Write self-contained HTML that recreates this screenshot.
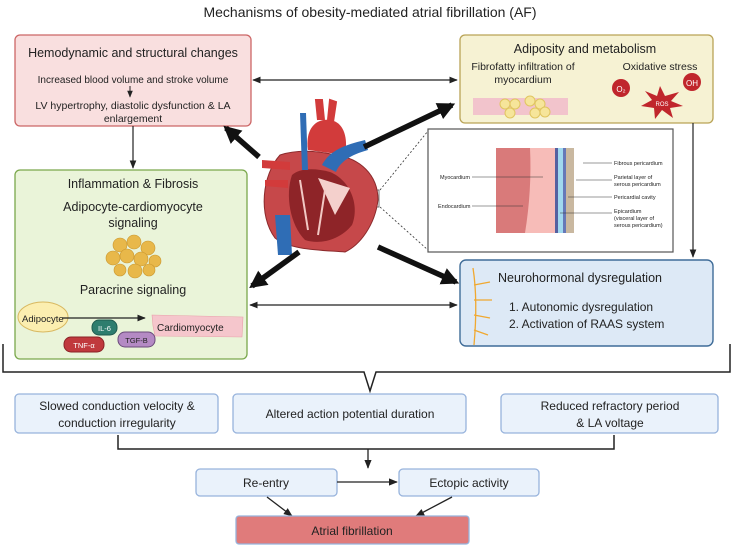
<!DOCTYPE html>
<html><head><meta charset="utf-8"><style>
body{margin:0;width:733px;height:548px;background:#fff;font-family:"Liberation Sans",sans-serif;overflow:hidden}
svg{display:block}
text{font-family:"Liberation Sans",sans-serif;fill:#222}
</style></head><body>
<svg width="733" height="548" viewBox="0 0 733 548">
<defs>
<marker id="a" viewBox="0 0 10 10" refX="9" refY="5" markerWidth="7" markerHeight="7" orient="auto-start-reverse"><path d="M0,1 L10,5 L0,9 z" fill="#222"/></marker>
<marker id="b" viewBox="0 0 10 10" refX="8" refY="5" markerWidth="3.2" markerHeight="3.2" orient="auto"><path d="M0,0 L10,5 L0,10 z" fill="#111"/></marker>
</defs>
<text x="370" y="17" font-size="14" text-anchor="middle">Mechanisms of obesity-mediated atrial fibrillation (AF)</text>

<!-- Hemodynamic -->
<rect x="15" y="35" width="236" height="91" rx="5" fill="#f9dfdf" stroke="#c66" stroke-width="1.3"/>
<text x="133" y="57" font-size="12.5" text-anchor="middle">Hemodynamic and structural changes</text>
<text x="133" y="83" font-size="10" text-anchor="middle">Increased blood volume and stroke volume</text>
<line x1="130" y1="86" x2="130" y2="97" stroke="#222" marker-end="url(#a)"/>
<text x="133" y="109" font-size="10.5" text-anchor="middle">LV hypertrophy, diastolic dysfunction &amp; LA</text>
<text x="133" y="122" font-size="10.5" text-anchor="middle">enlargement</text>

<!-- Adiposity -->
<rect x="460" y="35" width="253" height="88" rx="5" fill="#f6f2d3" stroke="#b9a356" stroke-width="1.3"/>
<text x="585" y="53" font-size="12.5" text-anchor="middle">Adiposity and metabolism</text>
<text x="523" y="70" font-size="10.5" text-anchor="middle">Fibrofatty infiltration of</text>
<text x="523" y="83" font-size="10.5" text-anchor="middle">myocardium</text>
<text x="660" y="70" font-size="10.5" text-anchor="middle">Oxidative stress</text>
<rect x="473" y="98" width="95" height="17" fill="#f2c4cc"/>
<g fill="#f6e59a" stroke="#e0c560"><circle cx="505" cy="104" r="5"/><circle cx="515" cy="104" r="5"/><circle cx="510" cy="113" r="5"/><circle cx="530" cy="101" r="5"/><circle cx="540" cy="104" r="5"/><circle cx="535" cy="113" r="5"/><circle cx="545" cy="112" r="5"/></g>
<circle cx="621" cy="126" r="0" />
<circle cx="621" cy="88" r="9" fill="#c0262c"/><text x="621" y="92" font-size="8" text-anchor="middle" fill="#fff" style="fill:#fff">O₂</text>
<circle cx="692" cy="82" r="9" fill="#c0262c"/><text x="692" y="86" font-size="8" text-anchor="middle" style="fill:#fff">OH</text>
<path d="M660,86 L665,96 L679,92 L671,101 L683,106 L670,108 L673,118 L662,110 L655,119 L654,108 L641,106 L652,100 L645,91 L657,96 Z" fill="#c0262c"/>
<text x="662" y="106" font-size="6" text-anchor="middle" style="fill:#fff">ROS</text>

<!-- inset -->
<rect x="428" y="129" width="245" height="123" fill="#fff" stroke="#555" stroke-width="1.2"/>
<line x1="380" y1="190" x2="428" y2="131" stroke="#333" stroke-dasharray="2,2" stroke-width="0.8"/>
<line x1="380" y1="207" x2="428" y2="250" stroke="#333" stroke-dasharray="2,2" stroke-width="0.8"/>
<rect x="357" y="190" width="22" height="17" fill="none" stroke="#555" stroke-width="0.8"/>
<rect x="496" y="148" width="40" height="85" fill="#d97a7a"/>
<path d="M530,148 L555,148 L555,233 L525,233 Q532,190 530,148Z" fill="#f7bcb8"/>
<rect x="555" y="148" width="3" height="85" fill="#5560a0"/>
<rect x="558" y="148" width="5" height="85" fill="#a0d8ef"/>
<rect x="563" y="148" width="3" height="85" fill="#6678b8"/>
<rect x="566" y="148" width="8" height="85" fill="#c9b8a0"/>
<g stroke="#333" stroke-width="0.5"><line x1="472" y1="177" x2="543" y2="177"/><line x1="472" y1="206" x2="523" y2="206"/><line x1="583" y1="163" x2="612" y2="163"/><line x1="576" y1="180" x2="612" y2="180"/><line x1="568" y1="197" x2="612" y2="197"/><line x1="560" y1="213" x2="612" y2="213"/></g>
<g font-size="5.5"><text x="440" y="179">Myocardium</text><text x="438" y="208">Endocardium</text><text x="614" y="165">Fibrous pericardium</text><text x="614" y="179">Parietal layer of</text><text x="614" y="186">serous pericardium</text><text x="614" y="199">Pericardial cavity</text><text x="614" y="213">Epicardium</text><text x="614" y="220">(visceral layer of</text><text x="614" y="227">serous pericardium)</text></g>

<!-- Inflammation -->
<rect x="15" y="170" width="232" height="189" rx="5" fill="#eaf4d9" stroke="#7aa84c" stroke-width="1.3"/>
<text x="133" y="188" font-size="12.5" text-anchor="middle">Inflammation &amp; Fibrosis</text>
<text x="133" y="211" font-size="12.5" text-anchor="middle">Adipocyte-cardiomyocyte</text>
<text x="133" y="227" font-size="12.5" text-anchor="middle">signaling</text>
<g fill="#e8b84a" stroke="#c9962e" stroke-width="0.6"><circle cx="120" cy="245" r="7"/><circle cx="134" cy="242" r="7"/><circle cx="148" cy="248" r="7"/><circle cx="113" cy="258" r="7"/><circle cx="127" cy="256" r="7"/><circle cx="141" cy="259" r="7"/><circle cx="155" cy="261" r="6"/><circle cx="120" cy="270" r="6"/><circle cx="135" cy="271" r="7"/><circle cx="149" cy="270" r="6"/></g>
<text x="133" y="294" font-size="12.5" text-anchor="middle">Paracrine signaling</text>
<ellipse cx="43" cy="317" rx="25" ry="15" fill="#fbeeb0" stroke="#d8b860"/>
<text x="22" y="322" font-size="9.5">Adipocyte</text>
<line x1="62" y1="318" x2="145" y2="318" stroke="#222" stroke-width="1.2" marker-end="url(#a)"/>
<path d="M152,315 L243,317 L242,337 L155,336 L153,326 Z" fill="#f5c6cc" stroke="#e8a0aa" stroke-width="0.6"/>
<text x="157" y="331" font-size="10">Cardiomyocyte</text>
<rect x="92" y="320" width="25" height="15" rx="7" fill="#2e7d6e" stroke="#1f5a4f"/><text x="104.5" y="331" font-size="7.5" text-anchor="middle" style="fill:#fff">IL-6</text>
<rect x="64" y="337" width="40" height="15" rx="7" fill="#c0393d" stroke="#8a2226"/><text x="84" y="348" font-size="7.5" text-anchor="middle" style="fill:#fff">TNF-α</text>
<rect x="118" y="332" width="37" height="15" rx="7" fill="#b48ac4" stroke="#6a4b7a"/><text x="136.5" y="343" font-size="7.5" text-anchor="middle">TGF-B</text>

<!-- Neuro -->
<rect x="460" y="260" width="253" height="86" rx="6" fill="#dde9f6" stroke="#3f6c98" stroke-width="1.4"/>
<path d="M473,268 Q478,300 474,345 M474,285 L490,282 M474,300 L492,300 M474,315 L490,318 M474,330 L488,335" stroke="#f0a830" stroke-width="1.3" fill="none"/>
<text x="580" y="282" font-size="12.5" text-anchor="middle">Neurohormonal dysregulation</text>
<text x="509" y="311" font-size="12">1. Autonomic dysregulation</text>
<text x="509" y="328" font-size="12">2. Activation of RAAS system</text>

<!-- thin arrows -->
<line x1="253" y1="80" x2="457" y2="80" stroke="#222" stroke-width="1.2" marker-start="url(#a)" marker-end="url(#a)"/>
<line x1="250" y1="305" x2="457" y2="305" stroke="#222" stroke-width="1.2" marker-start="url(#a)" marker-end="url(#a)"/>
<line x1="133" y1="126" x2="133" y2="168" stroke="#222" stroke-width="1.2" marker-end="url(#a)"/>
<line x1="693" y1="123" x2="693" y2="257" stroke="#222" stroke-width="1.2" marker-end="url(#a)"/>

<!-- heart -->
<path d="M280,155 C262,175 258,215 275,238 C290,250 320,250 345,252 C360,245 375,225 378,200 C378,175 360,158 335,155 C315,150 295,150 280,155Z" fill="#c6484a" stroke="#8c2a2c"/>
<path d="M292,175 C285,195 290,225 305,240 C320,245 340,240 352,225 C360,205 350,180 330,172 C315,168 300,168 292,175Z" fill="#8e2428"/>
<path d="M318,178 L335,215 L350,188" fill="#f4d0cc"/>
<path d="M300,180 L308,230 M325,190 L318,235" stroke="#f2c8c4" stroke-width="2"/>
<path d="M300,113 L302,170 L308,170 L306,113Z" fill="#2f6db5"/>
<path d="M275,215 L278,255 L292,255 L290,215Z" fill="#2f6db5"/>
<path d="M308,150 C305,130 315,118 330,120 C345,122 348,140 345,155Z" fill="#d23b3b"/>
<path d="M318,120 L316,100 L322,100 L324,120 M328,120 L330,100 L336,102 L333,122" fill="#d23b3b" stroke="#d23b3b" stroke-width="2"/>
<path d="M322,165 C330,150 345,145 365,140 L368,150 C350,155 340,162 336,172Z" fill="#2f6db5"/>
<path d="M262,160 L290,162 L290,170 L262,168Z M265,180 L288,180 L288,188 L265,186Z" fill="#d23b3b"/>

<!-- thick arrows -->
<g stroke="#111" stroke-width="5.5" marker-end="url(#b)">
<line x1="259" y1="157" x2="226" y2="128"/>
<line x1="364" y1="147" x2="452" y2="105"/>
<line x1="299" y1="252" x2="252" y2="286"/>
<line x1="378" y1="247" x2="456" y2="282"/>
</g>

<!-- brace -->
<path d="M3,344 L3,372 L364,372 L370,391 L376,372 L730,372 L730,344" fill="none" stroke="#222" stroke-width="1.5"/>

<!-- bottom row -->
<g fill="#eaf2fb" stroke="#97b3dc" stroke-width="1.3">
<rect x="15" y="394" width="203" height="39" rx="4"/>
<rect x="233" y="394" width="233" height="39" rx="4"/>
<rect x="501" y="394" width="217" height="39" rx="4"/>
<rect x="196" y="469" width="141" height="27" rx="4"/>
<rect x="399" y="469" width="140" height="27" rx="4"/>
</g>
<g font-size="12" text-anchor="middle">
<text x="117" y="410">Slowed conduction velocity &amp;</text>
<text x="117" y="427">conduction irregularity</text>
<text x="350" y="418">Altered action potential duration</text>
<text x="610" y="410">Reduced refractory period</text>
<text x="610" y="427">&amp; LA voltage</text>
<text x="266" y="487">Re-entry</text>
<text x="469" y="487">Ectopic activity</text>
</g>
<path d="M118,435 L118,449 L614,449 L614,435" fill="none" stroke="#222" stroke-width="1.5"/>
<line x1="368" y1="449" x2="368" y2="468" stroke="#222" stroke-width="1.3" marker-end="url(#a)"/>
<line x1="337" y1="482" x2="397" y2="482" stroke="#222" stroke-width="1.3" marker-end="url(#a)"/>
<line x1="267" y1="497" x2="292" y2="516" stroke="#222" stroke-width="1.3" marker-end="url(#a)"/>
<line x1="452" y1="497" x2="416" y2="516" stroke="#222" stroke-width="1.3" marker-end="url(#a)"/>
<rect x="236" y="516" width="233" height="28" rx="3" fill="#e07b7b" stroke="#97b3dc" stroke-width="1.3"/>
<text x="352" y="535" font-size="12" text-anchor="middle">Atrial fibrillation</text>
</svg>
</body></html>
